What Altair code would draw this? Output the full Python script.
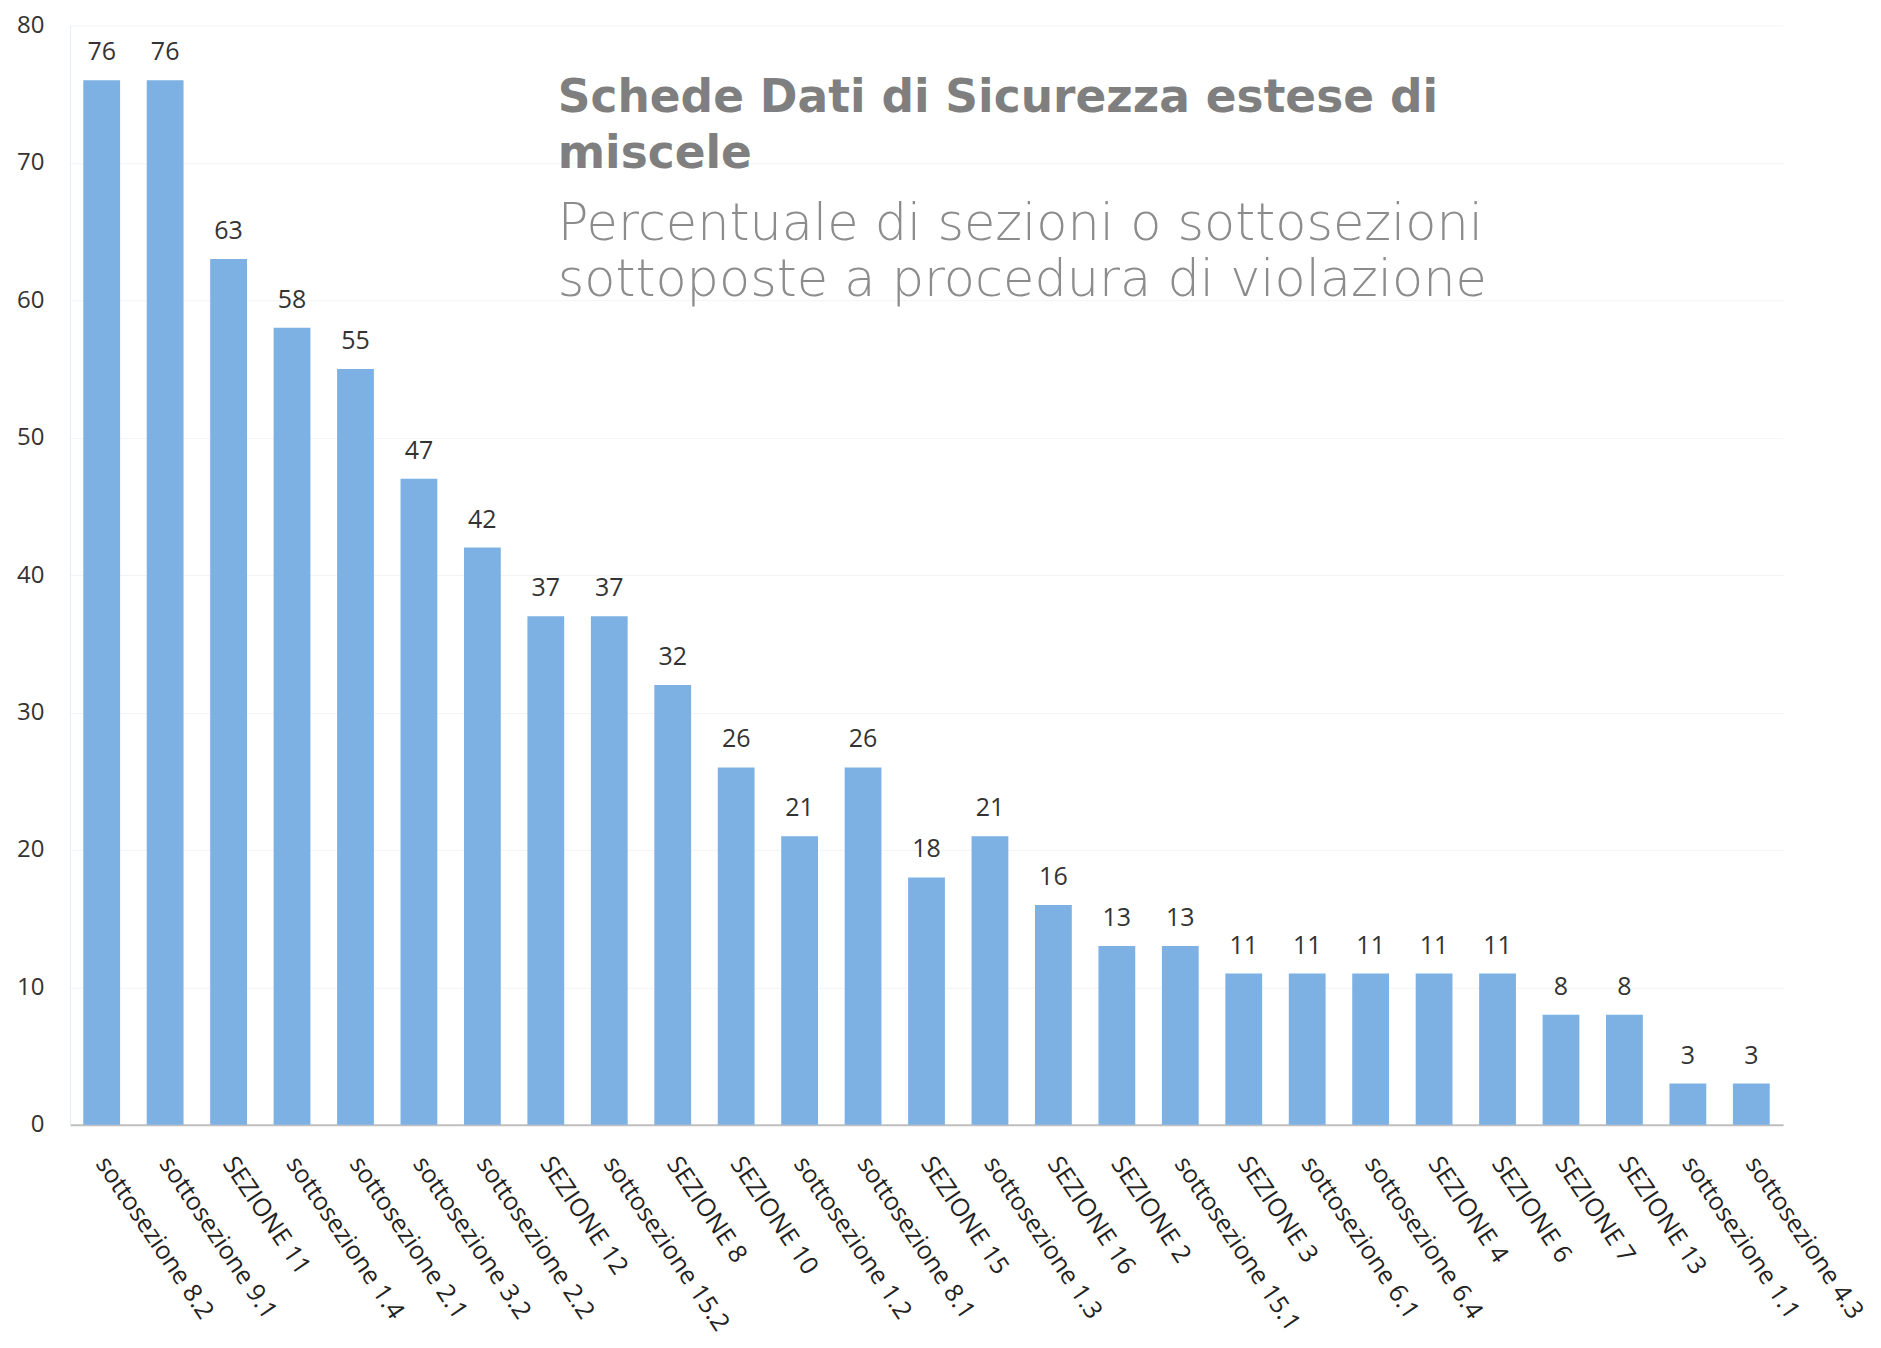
import altair as alt
import pandas as pd

categories = [
    "sottosezione 8.2", "sottosezione 9.1", "SEZIONE 11", "sottosezione 1.4",
    "sottosezione 2.1", "sottosezione 3.2", "sottosezione 2.2", "SEZIONE 12",
    "sottosezione 15.2", "SEZIONE 8", "SEZIONE 10", "sottosezione 1.2",
    "sottosezione 8.1", "SEZIONE 15", "sottosezione 1.3", "SEZIONE 16",
    "SEZIONE 2", "sottosezione 15.1", "SEZIONE 3", "sottosezione 6.1",
    "sottosezione 6.4", "SEZIONE 4", "SEZIONE 6", "SEZIONE 7",
    "SEZIONE 13", "sottosezione 1.1", "sottosezione 4.3",
]
values = [76, 76, 63, 58, 55, 47, 42, 37, 37, 32, 26, 21, 26, 18, 21, 16,
          13, 13, 11, 11, 11, 11, 11, 8, 8, 3, 3]

title_lines = ["Schede Dati di Sicurezza estese di", "miscele"]
subtitle_lines = ["Percentuale di sezioni o sottosezioni",
                  "sottoposte a procedura di violazione"]

df = pd.DataFrame({"cat": categories, "val": values})

W, H = 1714, 1100

x = alt.X("cat:N", sort=None, title=None,
          scale=alt.Scale(paddingInner=0.42, paddingOuter=0.21),
          axis=alt.Axis(labelAngle=56, labelAlign="left", labelBaseline="middle",
                        labelFont="Open Sans", labelFontSize=25, labelColor="#222222",
                        labelPadding=34, ticks=False, domainColor="#bfbfbf",
                        domainWidth=2, labelLimit=400))
y = alt.Y("val:Q", title=None,
          scale=alt.Scale(domain=[0, 80], nice=False),
          axis=alt.Axis(values=list(range(0, 81, 10)), labelFont="Open Sans",
                        labelFontSize=24, labelColor="#333333", labelPadding=26,
                        ticks=False, domainColor="#e3ecf6", grid=True,
                        gridColor="#f4f4f4", gridWidth=1))

bars = alt.Chart(df).mark_bar(color="#7DB1E3").encode(x=x, y=y)
labels = alt.Chart(df).mark_text(font="Open Sans", fontSize=25, color="#333333",
                                 baseline="alphabetic", dy=-20).encode(
    x=alt.X("cat:N", sort=None), y="val:Q", text="val:Q")

tlayers = []
for i, t in enumerate(title_lines):
    tlayers.append(alt.Chart(alt.Data(values=[{}])).mark_text(
        font="DejaVu Sans", fontWeight="bold", fontSize=45.5, color="#7f7f7f",
        align="left", baseline="alphabetic").encode(
        x=alt.value(488), y=alt.value(87 + 56 * i), text=alt.value(t)))
for i, t in enumerate(subtitle_lines):
    tlayers.append(alt.Chart(alt.Data(values=[{}])).mark_text(
        font="DejaVu Sans", fontWeight=200, fontSize=51, color="#8c8c8c",
        align="left", baseline="alphabetic").encode(
        x=alt.value(488), y=alt.value(215 + 56 * i), text=alt.value(t)))

chart = alt.layer(bars, labels, *tlayers).properties(
    width=W, height=H,
    padding={"left": 62, "top": 17, "right": 90, "bottom": 215},
    autosize=alt.AutoSizeParams(type="none"),
).configure(background="white").configure_view(stroke=None)

chart.save("out.html", embed_options={"renderer": "svg", "actions": False})
